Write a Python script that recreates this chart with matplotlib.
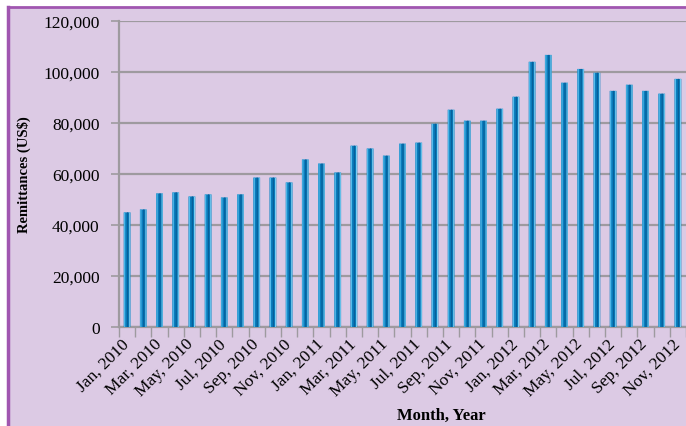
import numpy as np
import matplotlib
matplotlib.use('Agg')
import matplotlib.pyplot as plt
from matplotlib.patches import Rectangle
from matplotlib.lines import Line2D

plt.rcParams['font.family'] = ['Liberation Serif', 'DejaVu Serif']

months = ['Jan', 'Feb', 'Mar', 'Apr', 'May', 'Jun', 'Jul', 'Aug', 'Sep', 'Oct', 'Nov', 'Dec']
labels = [f'{m}, {y}' for y in (2010, 2011, 2012) for m in months][:35]

remit = [44950, 46100, 52400, 52800, 51200, 52000, 50800, 52000, 58600, 58600,
         56700, 65700, 64100, 60600, 71100, 70000, 67200, 71900, 72300, 79700,
         85200, 80900, 80900, 85600, 90300, 104000, 106700, 95800, 101200, 99700,
         92600, 95000, 92600, 91500, 97300]

lavender = '#dccae4'
purple = '#a056b0'
grid_c = '#9e9a9f'

fig = plt.figure(figsize=(6.86, 4.27), dpi=100, facecolor='white')
# panel background and border
fig.patches.append(Rectangle((8 / 686, 0), 1, (427 - 8) / 427, transform=fig.transFigure,
                             facecolor=lavender, edgecolor='none', zorder=-5))
fig.lines.append(Line2D([8 / 686, 1], [(427 - 8) / 427] * 2, transform=fig.transFigure,
                        color=purple, lw=2, zorder=-4))
fig.lines.append(Line2D([8 / 686] * 2, [0, (427 - 8) / 427], transform=fig.transFigure,
                        color=purple, lw=2.5, zorder=-4))

ax = fig.add_axes([119 / 686, 99 / 427, 567 / 686, 306 / 427])
ax.set_facecolor('none')

x = np.arange(len(remit))
# base bar + thin stripes for the glossy look
bw = 0.42
ax.bar(x, remit, width=bw, color='#0a7cbd', linewidth=0, zorder=3, snap=False)
for off, w, c in [(-0.15, 0.07, '#55bdec'), (0.03, 0.08, '#06609a'), (0.16, 0.06, '#7fd0f2')]:
    ax.bar(x + off, remit, width=w, color=c, linewidth=0, zorder=4, snap=False)

ax.set_ylim(0, 120000)
ax.set_xlim(-0.5, 34.38)
yt = np.arange(0, 120001, 20000)
ax.set_yticks(yt)
ax.set_yticklabels([f'{v:,}' for v in yt], fontsize=12.5)
ax.yaxis.grid(True, color=grid_c, lw=1.6, zorder=1)
ax.set_axisbelow(True)

# label anchors sit a little left of each bar, as in the original
ax.set_xticks(x[::2] - 0.38)
ax.set_xticklabels(labels[::2], rotation=45, ha='right', rotation_mode='anchor', fontsize=12.5)
ax.set_xticks(np.arange(-0.5, 35, 1), minor=True)
ax.tick_params(axis='x', which='major', length=0, pad=6)
ax.tick_params(axis='x', which='minor', length=7, width=1, color=grid_c)
ax.tick_params(axis='y', length=6, width=1.2, color=grid_c, pad=8)

for s in ['top', 'right']:
    ax.spines[s].set_visible(False)
ax.spines['left'].set_color(grid_c)
ax.spines['left'].set_linewidth(1.6)
ax.spines['bottom'].set_color(grid_c)
ax.spines['bottom'].set_linewidth(1.6)

ax.set_ylabel('Remittances (US$)', fontsize=10.5, fontweight='bold')
ax.yaxis.set_label_coords(-0.155, 0.5)
fig.text(441 / 686, 1 - 416 / 427, 'Month, Year', fontsize=12, fontweight='bold',
         ha='center', va='center')

fig.savefig('out.png', dpi=100, facecolor=fig.get_facecolor())
